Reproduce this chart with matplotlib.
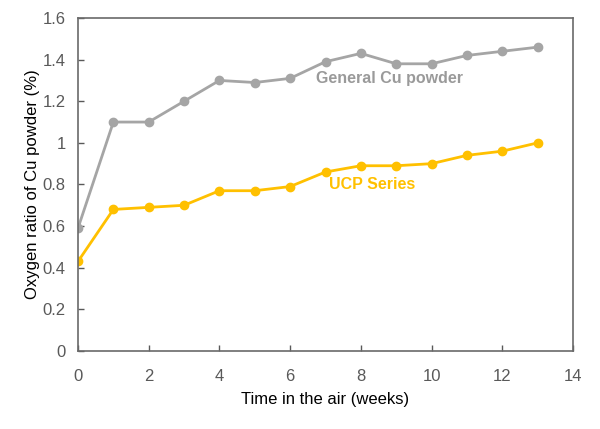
import matplotlib
matplotlib.use("Agg")
import matplotlib.pyplot as plt

# datos
weeks = [0, 1, 2, 3, 4, 5, 6, 7, 8, 9, 10, 11, 12, 13]
general_cu = [0.59, 1.10, 1.10, 1.20, 1.30, 1.29, 1.31, 1.39, 1.43, 1.38, 1.38, 1.42, 1.44, 1.46]
ucp_series = [0.43, 0.68, 0.69, 0.70, 0.77, 0.77, 0.79, 0.86, 0.89, 0.89, 0.90, 0.94, 0.96, 1.00]
y_ticks = [0, 0.2, 0.4, 0.6, 0.8, 1.0, 1.2, 1.4, 1.6]
y_tick_labels = ["0", "0.2", "0.4", "0.6", "0.8", "1", "1.2", "1.4", "1.6"]
x_ticks = [0, 2, 4, 6, 8, 10, 12, 14]

plt.rcParams['font.family'] = ['Liberation Sans', 'DejaVu Sans']

fig = plt.figure(figsize=(6, 4.29), dpi=100)
ax = fig.add_axes([0.13, 0.182, 0.825, 0.776])

gray = "#A5A5A5"
yellow = "#FFC000"
ax.plot(weeks, general_cu, color=gray, marker="o", markersize=6, linewidth=2)
ax.plot(weeks, ucp_series, color=yellow, marker="o", markersize=6, linewidth=2)

ax.text(6.73, 1.31, "General Cu powder", color="#9a9a9a", fontsize=11.5,
        fontweight="bold", va="center", ha="left")
ax.text(7.1, 0.80, "UCP Series", color=yellow, fontsize=11.5,
        fontweight="bold", va="center", ha="left")

ax.set_xlim(0, 14)
ax.set_ylim(0, 1.6)
ax.set_xticks(x_ticks)
ax.set_yticks(y_ticks)
ax.set_yticklabels(y_tick_labels)
ax.tick_params(colors="#595959", labelsize=12, length=4, width=1, direction="in")
ax.tick_params(axis="x", pad=13)
ax.tick_params(axis="y", pad=9)
for s in ax.spines.values():
    s.set_color("#6a6a6a")
    s.set_linewidth(1.2)

ax.set_xlabel("Time in the air (weeks)", fontsize=12, labelpad=6)
ax.set_ylabel("Oxygen ratio of Cu powder (%)", fontsize=12, labelpad=2)

fig.savefig("out.png", dpi=100)
